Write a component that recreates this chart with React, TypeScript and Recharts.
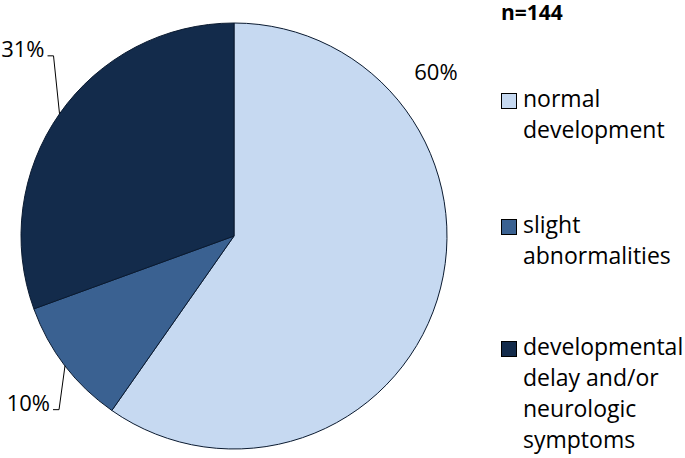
import React from 'react';
import { PieChart, Pie, Cell, Legend } from 'recharts';

const categories = ['normal development', 'slight abnormalities', 'developmental delay and/or neurologic symptoms'];
const legendLines = [['normal', 'development'], ['slight', 'abnormalities'], ['developmental', 'delay and/or', 'neurologic', 'symptoms']];
const counts = [86, 14, 44];
const colors = ['#C6D9F1', '#3A6191', '#132B4B'];
const sampleLabel = 'n=144';

const data = categories.map((name, i) => ({ name, value: counts[i] }));

const FONT = '"Open Sans", sans-serif';
const RAD = Math.PI / 180;

// label placement per slice: free label for the big slice, elbow leader for the others
const labelCfg = [
  { free: true, angle: 39, factor: 1.22 },
  { free: false, dy: 44 },
  { free: false, dy: -58 },
];

// legend group tops (first line baseline minus ~24px)
const legendTops = [83, 209, 331];

const renderLabel = (props: any) => {
  const { cx, cy, midAngle, outerRadius, percent, index } = props;
  const text = `${Math.round(percent * 100)}%`;
  const cfg: any = labelCfg[index];
  if (cfg.free) {
    const r = outerRadius * cfg.factor;
    const x = cx + Math.cos(-cfg.angle * RAD) * r;
    const y = cy + Math.sin(-cfg.angle * RAD) * r;
    return (
      <text x={x} y={y + 8} textAnchor="middle" fill="#000" fontSize={22} fontFamily={FONT}>
        {text}
      </text>
    );
  }
  const ex = cx + Math.cos(-midAngle * RAD) * outerRadius;
  const ey = cy + Math.sin(-midAngle * RAD) * outerRadius;
  const bx = ex - 6;
  const by = ey + cfg.dy;
  return (
    <g>
      <polyline points={`${ex},${ey} ${bx},${by} ${bx - 6},${by}`} fill="none" stroke="#000" strokeWidth={1} />
      <text x={bx - 9} y={by + 1} textAnchor="end" fill="#000" fontSize={22} fontFamily={FONT}>
        {text}
      </text>
    </g>
  );
};

const renderLegend = () => (
  <div style={{ position: 'relative', width: 184, height: 458, fontFamily: FONT, color: '#000' }}>
    <div style={{ position: 'absolute', left: 0, top: 0, fontWeight: 'bold', fontSize: 21, lineHeight: '24px' }}>
      {sampleLabel}
    </div>
    {legendLines.map((lines, i) => (
      <div key={i} style={{ position: 'absolute', left: 0, top: legendTops[i], display: 'flex', alignItems: 'flex-start' }}>
        <div
          style={{
            width: 14,
            height: 14,
            background: colors[i],
            border: '1px solid #000',
            marginTop: 10,
            marginRight: 6,
            flexShrink: 0,
          }}
        />
        <div style={{ fontSize: 23, lineHeight: '31px', whiteSpace: 'nowrap' }}>
          {lines.map((l, j) => (
            <div key={j}>{l}</div>
          ))}
        </div>
      </div>
    ))}
  </div>
);

export default function App() {
  return (
    <div style={{ position: 'absolute', left: 0, top: 0, background: '#fff' }}>
      <PieChart width={685} height={458} margin={{ top: 0, right: 0, bottom: 0, left: 0 }}>
        <Pie
          data={data}
          dataKey="value"
          nameKey="name"
          cx={234}
          cy={236}
          outerRadius={213}
          startAngle={90}
          endAngle={-270}
          stroke="#0A1A30"
          strokeWidth={1}
          label={renderLabel}
          labelLine={false}
          isAnimationActive={false}
        >
          {data.map((d, i) => (
            <Cell key={d.name} fill={colors[i]} />
          ))}
        </Pie>
        <Legend
          layout="vertical"
          verticalAlign="top"
          align="right"
          content={renderLegend}
          wrapperStyle={{ left: 501, top: 0, width: 184, height: 458 }}
        />
      </PieChart>
    </div>
  );
}
